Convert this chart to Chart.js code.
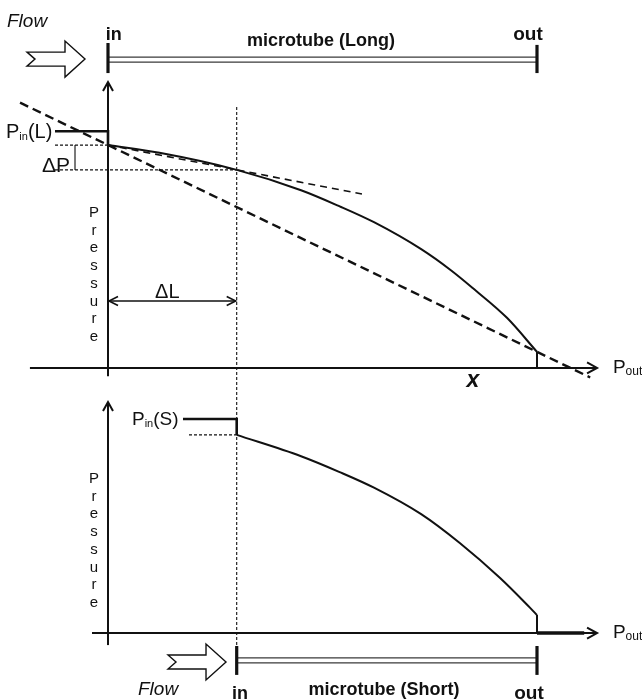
<!DOCTYPE html>
<html>
<head>
<meta charset="utf-8">
<script src="https://cdn.jsdelivr.net/npm/chart.js@4/dist/chart.umd.min.js"></script>
<style>
  html, body { margin: 0; padding: 0; background: #fff; }
  canvas { display: block; }
</style>
</head>
<body>
<canvas id="c" width="642" height="699"></canvas>
<script>
// Position along the tube is in tenths of the long tube length (inlet = 0, outlet = 10).
// Pressure is in arbitrary units, with the outlet pressure P_out = 0.

// Long microtube: pressure profile along the tube
const longPos      = [0, 1.2, 3.0, 4.5, 5.4, 6.2, 7.3, 8.0, 8.5, 9.3, 10];
const longPressure = [9.42, 9.09, 8.37, 7.51, 6.83, 6.16, 5.02, 4.12, 3.38, 2.12, 0.68];

// Short microtube (starts at ΔL): pressure profile along the tube
const shortPos      = [3.0, 4.5, 5.4, 6.2, 7.3, 8.2, 9.14, 9.84, 10];
const shortPressure = [8.37, 7.47, 6.80, 6.14, 5.02, 3.80, 2.32, 1.06, 0.76];

// Reservoir (inlet) pressures and the ΔL / ΔP construction
const pinLong  = 10.0;
const pinShort = 9.04;
const deltaL   = 3.0;
const tubeOut  = 10.0;
const pAfterEntranceLong  = 9.42;   // pressure just inside the long tube inlet
const pAtDeltaL           = 8.37;   // pressure in the long tube at x = ΔL
const pAfterEntranceShort = 8.37;   // pressure just inside the short tube inlet

// Tangent at the inlet and secant (inlet → outlet) of the long-tube profile
const tangentX = [0, 5.92];
const tangentP = [9.42, 7.35];
const secantX  = [-2.05, 11.24];
const secantP  = [11.21, -0.40];

// Reservoir lines start a little left of the inlet
const pinLongFrom    = -1.235;
const pinShortFrom   = 1.748;
const guideShortFrom = 1.888;

const pts = (xs, ys) => xs.map((x, i) => ({ x, y: ys[i] }));
const seg = (x0, y0, x1, y1) => [{ x: x0, y: y0 }, { x: x1, y: y1 }];

const INK = '#111';
const base = { showLine: true, pointRadius: 0, pointHoverRadius: 0, fill: false, borderColor: INK, borderWidth: 2 };

const datasets = [
  // long tube
  { ...base, yAxisID: 'yL', data: pts(longPos, longPressure), cubicInterpolationMode: 'monotone', borderWidth: 2 },
  { ...base, yAxisID: 'yL', data: seg(tubeOut, longPressure[longPressure.length - 1], tubeOut, 0), borderWidth: 2 },
  { ...base, yAxisID: 'yL', data: [{ x: pinLongFrom, y: pinLong }, { x: 0, y: pinLong }, { x: 0, y: pAfterEntranceLong }], borderWidth: 2.6 },
  { ...base, yAxisID: 'yL', data: pts(tangentX, tangentP), borderWidth: 1.6, borderDash: [7, 5] },
  { ...base, yAxisID: 'yL', data: pts(secantX, secantP), borderWidth: 2.4, borderDash: [9, 5] },
  { ...base, yAxisID: 'yL', data: seg(pinLongFrom, pAfterEntranceLong, 0, pAfterEntranceLong), borderWidth: 1.2, borderDash: [3, 2] },
  { ...base, yAxisID: 'yL', data: seg(pinLongFrom, pAtDeltaL, deltaL, pAtDeltaL), borderWidth: 1.2, borderDash: [3, 2] },
  { ...base, yAxisID: 'yL', data: seg(-0.769, pAfterEntranceLong, -0.769, pAtDeltaL), borderWidth: 1, borderColor: '#666' },
  { ...base, yAxisID: 'yL', data: seg(deltaL, 11.03, deltaL, -11.74), borderWidth: 1.1, borderDash: [3, 2] },
  // short tube
  { ...base, yAxisID: 'yS', data: pts(shortPos, shortPressure), cubicInterpolationMode: 'monotone', borderWidth: 2 },
  { ...base, yAxisID: 'yS', data: [{ x: pinShortFrom, y: pinShort }, { x: deltaL, y: pinShort }, { x: deltaL, y: pAfterEntranceShort }], borderWidth: 2.6 },
  { ...base, yAxisID: 'yS', data: seg(guideShortFrom, pAfterEntranceShort, deltaL, pAfterEntranceShort), borderWidth: 1.2, borderDash: [3, 2] },
  { ...base, yAxisID: 'yS', data: seg(tubeOut, shortPressure[shortPressure.length - 1], tubeOut, 0), borderWidth: 2 },
  { ...base, yAxisID: 'yS', data: seg(tubeOut, 0, 11.1, 0), borderWidth: 3.5 }
];

const FONT = '"Liberation Sans", Arial, Helvetica, sans-serif';

const diagram = {
  id: 'diagram',
  beforeDraw(chart) {
    const c = chart.ctx;
    c.save();
    c.fillStyle = '#fff';
    c.fillRect(0, 0, chart.width, chart.height);
    c.restore();
  },
  afterDatasetsDraw(chart) {
    const ctx = chart.ctx;
    const sx = chart.scales.x, sL = chart.scales.yL, sS = chart.scales.yS;
    const X = v => sx.getPixelForValue(v);
    const YL = v => sL.getPixelForValue(v);
    const YS = v => sS.getPixelForValue(v);

    ctx.save();
    ctx.strokeStyle = INK;
    ctx.fillStyle = INK;
    ctx.lineCap = 'butt';

    const line = (x0, y0, x1, y1, w) => {
      ctx.beginPath(); ctx.moveTo(x0, y0); ctx.lineTo(x1, y1);
      ctx.lineWidth = w; ctx.stroke();
    };
    const head = (tx, ty, ang, len, half, w) => {
      const c = Math.cos(ang), s = Math.sin(ang);
      const bx = tx - len * c, by = ty - len * s;
      ctx.beginPath();
      ctx.moveTo(bx - half * s, by + half * c);
      ctx.lineTo(tx, ty);
      ctx.lineTo(bx + half * s, by - half * c);
      ctx.lineWidth = w; ctx.lineJoin = 'miter'; ctx.stroke();
    };
    const text = (str, x, y, font, align = 'left', baseline = 'alphabetic') => {
      ctx.font = font; ctx.textAlign = align; ctx.textBaseline = baseline;
      ctx.fillText(str, x, y);
    };
    // "P" with a subscript and an optional tail, e.g. P_in(L)
    const pSub = (x, y, sub, tail, big, small) => {
      ctx.textAlign = 'left'; ctx.textBaseline = 'alphabetic';
      ctx.font = `${big}px ${FONT}`;
      ctx.fillText('P', x, y);
      let cx = x + ctx.measureText('P').width;
      ctx.font = `${small}px ${FONT}`;
      ctx.fillText(sub, cx, y + 2);
      cx += ctx.measureText(sub).width;
      if (tail) { ctx.font = `${big}px ${FONT}`; ctx.fillText(tail, cx, y); }
    };
    const vertical = (word, x, y0, step) => {
      [...word].forEach((ch, i) => text(ch, x, y0 + i * step, `15px ${FONT}`, 'center', 'middle'));
    };
    // hollow block arrow pointing right, tip at (tx, ty)
    const flowArrow = (tx, ty) => {
      const len = 58, headLen = 20, headHalf = 18, shaftHalf = 7, notch = 8;
      const x0 = tx - len, xh = tx - headLen;
      ctx.beginPath();
      ctx.moveTo(x0, ty - shaftHalf);
      ctx.lineTo(xh, ty - shaftHalf);
      ctx.lineTo(xh, ty - headHalf);
      ctx.lineTo(tx, ty);
      ctx.lineTo(xh, ty + headHalf);
      ctx.lineTo(xh, ty + shaftHalf);
      ctx.lineTo(x0, ty + shaftHalf);
      ctx.lineTo(x0 + notch, ty);
      ctx.closePath();
      ctx.fillStyle = '#fff'; ctx.fill();
      ctx.lineWidth = 1.4; ctx.lineJoin = 'miter'; ctx.stroke();
      ctx.fillStyle = INK;
    };
    // microtube drawn as a double line between inlet and outlet bars
    const tube = (xIn, xOut, yc, inTop, inBot, outTop, outBot) => {
      ctx.strokeStyle = '#3a3a3a';
      line(xIn, yc - 2.5, xOut, yc - 2.5, 1.3);
      line(xIn, yc + 2.5, xOut, yc + 2.5, 1.3);
      ctx.strokeStyle = INK;
      line(xIn, inTop, xIn, inBot, 3.2);
      line(xOut, outTop, xOut, outBot, 3.2);
    };

    // ---- top panel: long microtube ----
    line(X(0), YL(-0.35), X(0), YL(12.08), 2);
    head(X(0), YL(12.08), -Math.PI / 2, 9, 5, 2);
    line(X(-1.82), YL(0), X(11.40), YL(0), 2.2);
    head(X(11.40), YL(0), 0, 10, 5.5, 2);

    tube(X(0), X(tubeOut), YL(13.03), YL(13.73), YL(12.46), YL(13.65), YL(12.46));
    flowArrow(X(-0.536), YL(13.05));

    text('Flow', X(-2.354), YL(14.41), `italic 19px ${FONT}`);
    text('in', X(-0.05), YL(13.86), `bold 18px ${FONT}`);
    text('microtube (Long)', X(4.965), YL(13.60), `bold 18px ${FONT}`, 'center');
    text('out', X(9.79), YL(13.86), `bold 19px ${FONT}`, 'center');

    pSub(X(-2.378), YL(9.72), 'in', '(L)', 20, 11);
    text('\u0394P', X(-1.538), YL(8.28), `21px ${FONT}`);
    vertical('Pressure', X(-0.326), YL(6.55), 17.7);

    // ΔL dimension arrow
    line(X(0) + 1, YL(2.83), X(deltaL) - 1, YL(2.83), 1.6);
    head(X(0) + 1, YL(2.83), Math.PI, 9, 4.5, 1.6);
    head(X(deltaL) - 1, YL(2.83), 0, 9, 4.5, 1.6);
    text('\u0394L', X(1.096), YL(2.96), `20px ${FONT}`);

    text('x', X(8.508), YL(-0.55), `italic bold 23px ${FONT}`, 'center', 'middle');
    pSub(X(11.77), YL(-0.21), 'out', '', 19, 12);

    // ---- bottom panel: short microtube ----
    line(X(0), YS(-0.51), X(0), YS(9.76), 2);
    head(X(0), YS(9.76), -Math.PI / 2, 9, 5, 2);
    line(X(-0.373), YS(0), X(11.40), YS(0), 2);
    head(X(11.40), YS(0), 0, 10, 5.5, 2);

    pSub(X(0.559), YS(8.79), 'in', '(S)', 19, 11);
    vertical('Pressure', X(-0.326), YS(6.51), 17.7);
    pSub(X(11.77), YS(-0.21), 'out', '', 19, 12);

    tube(X(deltaL), X(tubeOut), YS(-1.16), YS(-0.55), YS(-1.77), YS(-0.55), YS(-1.77));
    flowArrow(X(2.751), YS(-1.225));

    text('Flow', X(0.699), YS(-2.62), `italic 19px ${FONT}`);
    text('in', X(3.077), YS(-2.79), `bold 18px ${FONT}`, 'center');
    text('microtube (Short)', X(6.434), YS(-2.62), `bold 18px ${FONT}`, 'center');
    text('out', X(9.814), YS(-2.79), `bold 19px ${FONT}`, 'center');

    ctx.restore();
  }
};

new Chart(document.getElementById('c'), {
  type: 'scatter',
  data: { datasets },
  options: {
    responsive: false,
    devicePixelRatio: 1,
    animation: false,
    events: [],
    layout: { padding: 0 },
    plugins: { legend: { display: false }, tooltip: { enabled: false }, title: { display: false } },
    scales: {
      // hidden scales spanning the whole canvas; x: 42.9 px per tenth of the long tube
      x:  { type: 'linear', display: false, min: -2.5175, max: 12.4476 },
      // pressure scales for the two panels (23.67 px per unit), P_out level of each panel at its own axis
      yL: { type: 'linear', display: false, position: 'left', min: -13.984, max: 15.547 },
      yS: { type: 'linear', display: false, position: 'left', min: -2.788, max: 26.743 }
    }
  },
  plugins: [diagram]
});
</script>
</body>
</html>
